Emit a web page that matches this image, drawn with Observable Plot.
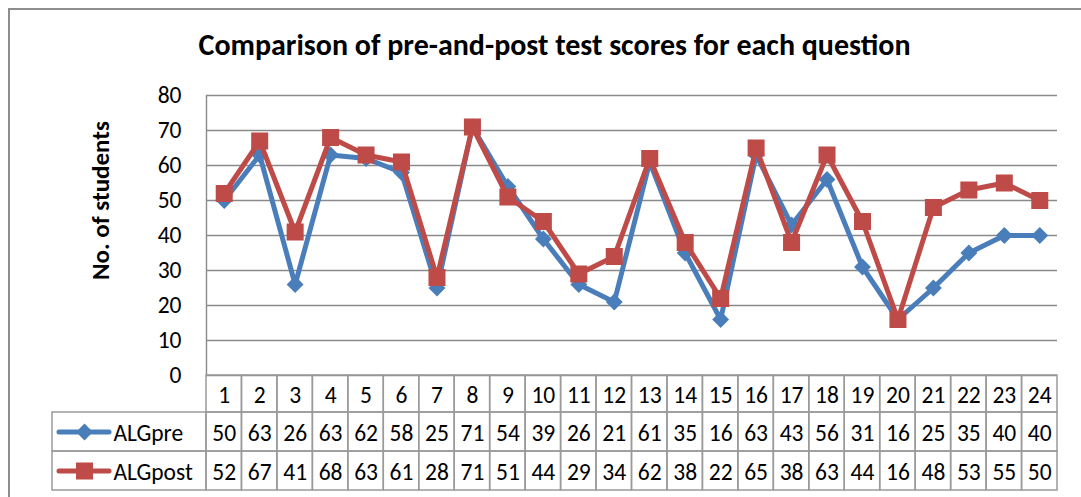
<!DOCTYPE html>
<html>
<head>
<meta charset="utf-8">
<script src="https://cdn.jsdelivr.net/npm/d3@7"></script>
<script src="https://cdn.jsdelivr.net/npm/@observablehq/plot@0.6"></script>
<style>
  html, body { margin: 0; padding: 0; background: #fff; }
  #wrap { position: relative; width: 1081px; height: 497px; overflow: hidden; }
  #border { position: absolute; left: 8px; top: 8px; width: 1100px; height: 520px; border: 2px solid #8d8d8d; box-sizing: border-box; }
  #chart { position: absolute; left: 0; top: 0; }
</style>
</head>
<body>
<div id="wrap"><div id="border"></div><div id="chart"></div></div>
<script>
const title = "Comparison of pre-and-post test scores for each question";
const yLabel = "No. of students";
const questions = [1,2,3,4,5,6,7,8,9,10,11,12,13,14,15,16,17,18,19,20,21,22,23,24];
const algPre  = [50,63,26,63,62,58,25,71,54,39,26,21,61,35,16,63,43,56,31,16,25,35,40,40];
const algPost = [52,67,41,68,63,61,28,71,51,44,29,34,62,38,22,65,38,63,44,16,48,53,55,50];
const seriesNames = ["ALGpre", "ALGpost"];
const seriesColors = ["#4A7EBB", "#BE4B48"];
const yTicks = [0,10,20,30,40,50,60,70,80];

// layout (pixels)
const PX_LEFT = 206, PX_RIGHT = 1057, PX_ZERO = 375, PX_TOP = 95;
const ROW_EDGES = [375, 412, 451, 490];
const LEG_LEFT = 52;
const xv = px => 0.5 + (px - PX_LEFT) * 24 / (PX_RIGHT - PX_LEFT);
const yv = px => (PX_ZERO - px) * 80 / (PX_ZERO - PX_TOP);

const pre = questions.map((q, i) => ({q, v: algPre[i]}));
const post = questions.map((q, i) => ({q, v: algPost[i]}));

// table cells
const cells = [];
questions.forEach((q, i) => {
  cells.push({x1: q - 0.5, x2: q + 0.5, r: 0, label: String(q)});
  cells.push({x1: q - 0.5, x2: q + 0.5, r: 1, label: String(algPre[i])});
  cells.push({x1: q - 0.5, x2: q + 0.5, r: 2, label: String(algPost[i])});
});
const legendCells = seriesNames.map((name, k) => ({name, r: k + 1, color: seriesColors[k]}));
const rowTop = r => yv(ROW_EDGES[r]);
const rowBot = r => yv(ROW_EDGES[r + 1]);
const rowMid = r => yv((ROW_EDGES[r] + ROW_EDGES[r + 1]) / 2);

const FONT = "Carlito, Calibri, Lato, sans-serif";
const gridColor = "#8a8a8a";
const tableColor = "#9a9a9a";
const LABEL_SIZE = 23.5;

const chart = Plot.plot({
  width: 1081,
  height: 497,
  margin: 0,
  style: {fontFamily: FONT, background: "transparent", color: "#000"},
  x: {type: "linear", domain: [0.5, 24.5], range: [PX_LEFT, PX_RIGHT], axis: null},
  y: {type: "linear", domain: [0, 80], range: [PX_ZERO, PX_TOP], axis: null},
  marks: [
    // gridlines
    Plot.ruleY(yTicks, {x1: 0.5, x2: 24.5, stroke: gridColor, strokeWidth: 1.4}),
    Plot.ruleX([0.5], {y1: 0, y2: 80, stroke: gridColor, strokeWidth: 1.4}),
    // y tick labels
    Plot.text(yTicks, {x: 0.5, y: d => d, text: d => String(d), dx: -25, textAnchor: "end", fontSize: LABEL_SIZE, fill: "#000"}),
    // title
    Plot.text([title], {x: xv(554), y: yv(45), fontSize: 30, fontWeight: "bold", fill: "#000"}),
    // y label
    Plot.text([yLabel], {x: xv(100), y: yv(200), rotate: -90, fontSize: 25, fontWeight: "bold", fill: "#000"}),
    // series
    Plot.line(pre, {x: "q", y: "v", stroke: seriesColors[0], strokeWidth: 5, strokeLinejoin: "round"}),
    Plot.dot(pre, {x: "q", y: "v", symbol: "diamond2", r: 7.6, fill: seriesColors[0], stroke: "none"}),
    Plot.line(post, {x: "q", y: "v", stroke: seriesColors[1], strokeWidth: 5, strokeLinejoin: "round"}),
    Plot.dot(post, {x: "q", y: "v", symbol: "square", r: 9.6, fill: seriesColors[1], stroke: "none"}),
    // data table cells
    Plot.rect(cells, {x1: "x1", x2: "x2", y1: d => rowTop(d.r), y2: d => rowBot(d.r), fill: "none", stroke: tableColor, strokeWidth: 1.5}),
    Plot.text(cells, {x: d => (d.x1 + d.x2) / 2, y: d => rowMid(d.r), text: "label", fontSize: LABEL_SIZE, fill: "#000", dy: 1}),
    // legend cells
    Plot.rect(legendCells, {x1: xv(LEG_LEFT), x2: 0.5, y1: d => rowTop(d.r), y2: d => rowBot(d.r), fill: "none", stroke: tableColor, strokeWidth: 1.5}),
    Plot.ruleY(legendCells, {y: d => rowMid(d.r), x1: xv(59), x2: xv(109), stroke: "color", strokeWidth: 5, strokeLinecap: "round"}),
    Plot.dot(legendCells.filter(d => d.r === 1), {x: xv(84), y: d => rowMid(d.r), symbol: "diamond2", r: 7.6, fill: "color", stroke: "none"}),
    Plot.dot(legendCells.filter(d => d.r === 2), {x: xv(84), y: d => rowMid(d.r), symbol: "square", r: 9.6, fill: "color", stroke: "none"}),
    Plot.text(legendCells, {x: xv(113), y: d => rowMid(d.r), text: "name", textAnchor: "start", fontSize: LABEL_SIZE, fill: "#000", dy: 1})
  ]
});
document.getElementById("chart").appendChild(chart);
</script>
</body>
</html>
